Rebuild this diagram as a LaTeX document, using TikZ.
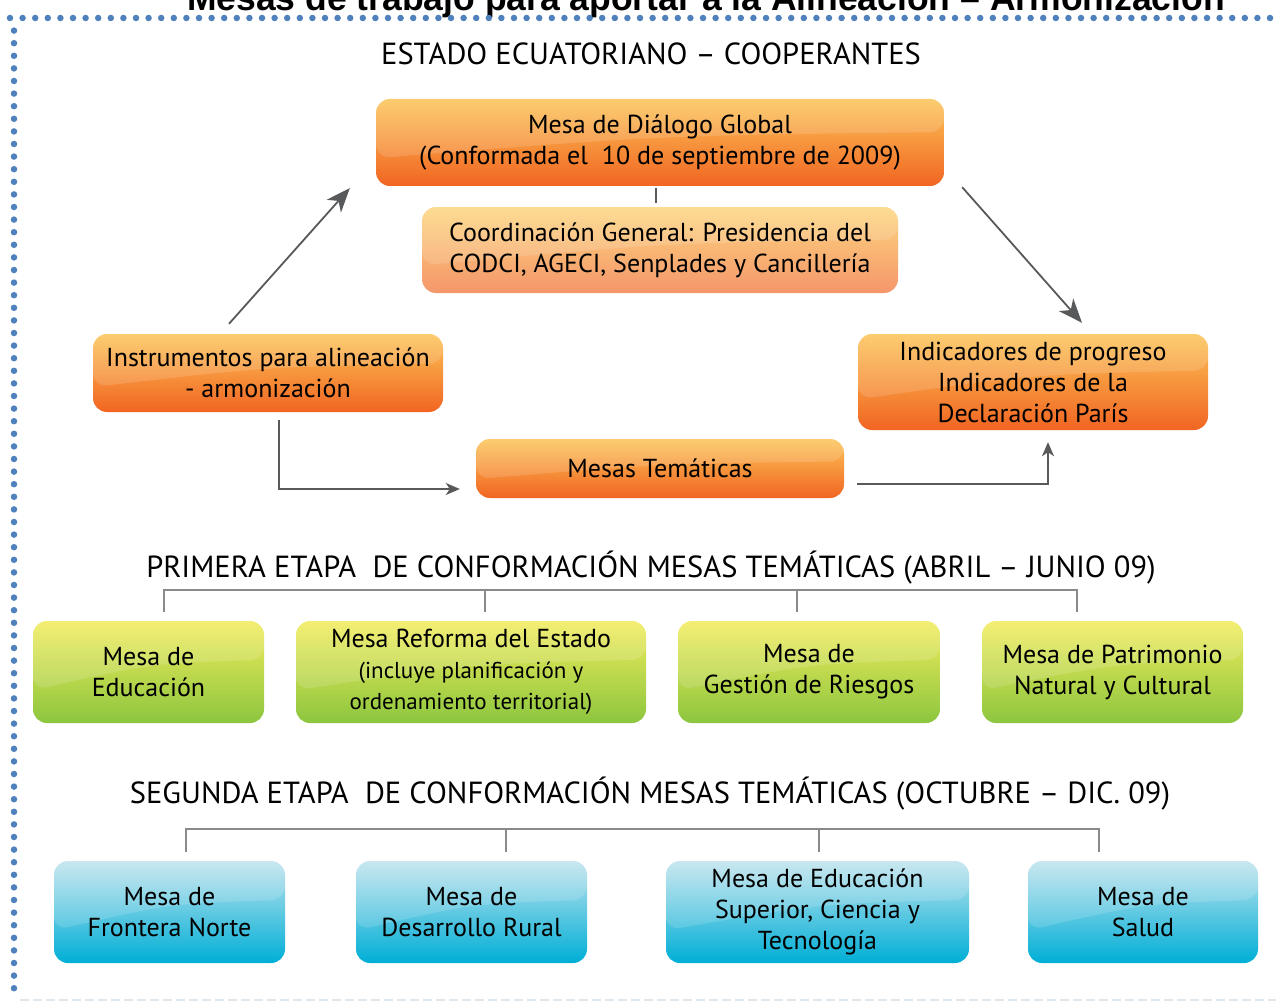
\documentclass[tikz,border=0pt]{standalone}
\usepackage{fontspec}
\setmainfont{PT Sans}
\newfontfamily\titlefont{Liberation Sans}
\usetikzlibrary{arrows.meta,calc}

\definecolor{dotblue}{HTML}{4F81BD}
\definecolor{linegray}{HTML}{58595B}
\definecolor{brgray}{HTML}{8A8A8A}

\tikzset{
	gloss/.style={path picture={
		\fill[white,opacity=0.14] (path picture bounding box.north west) -- (path picture bounding box.north east)
		-- ($(path picture bounding box.north east)!0.38!(path picture bounding box.south east)$)
		.. controls ($(path picture bounding box.north)!0.42!(path picture bounding box.south)$) .. ($(path picture bounding box.north west)!0.68!(path picture bounding box.south west)$) -- cycle;}},
	mesabox/.style={rounded corners=14pt,align=center,text=black,inner sep=0pt,
		font=\fontsize{26}{31}\selectfont,shading=axis,gloss},
	orangebox/.style={mesabox,top color={rgb,255:red,252;green,196;blue,88},middle color={rgb,255:red,247;green,148;blue,29},bottom color={rgb,255:red,241;green,101;blue,34}},
	peachbox/.style={mesabox,top color={rgb,255:red,253;green,214;blue,128},middle color={rgb,255:red,248;green,176;blue,104},bottom color={rgb,255:red,244;green,150;blue,106}},
	greenbox/.style={mesabox,top color={rgb,255:red,242;green,236;blue,92},middle color={rgb,255:red,208;green,222;blue,44},bottom color={rgb,255:red,140;green,198;blue,63},minimum height=102pt},
	bluebox/.style={mesabox,top color={rgb,255:red,192;green,228;blue,238},middle color={rgb,255:red,72;green,184;blue,222},bottom color={rgb,255:red,0;green,174;blue,214},minimum height=102pt},
	bigarrow/.style={draw=linegray,line width=1.8pt,-{Stealth[length=24pt,width=19pt,inset=7pt]}},
	smallarrow/.style={draw=linegray,line width=1.8pt,-{Stealth[length=14pt,width=12pt,inset=4pt]}},
	bracketline/.style={draw=brgray,line width=1.2pt},
	etapa/.style={font=\fontsize{30.5}{30.5}\selectfont,text=black,inner sep=0pt},
	dotborder/.style={draw=dotblue,line width=6.5pt,line cap=round,dash pattern=on 0pt off 12.6pt}
}

\begin{document}
\begin{tikzpicture}[x=1pt,y=-1pt]
	\useasboundingbox[fill=white] (0,0) rectangle (1276,1003);
	% titulo cortado y marco punteado
	\node[anchor=base,inner sep=0pt,font=\titlefont\bfseries\fontsize{35.5}{35.5}\selectfont] (titulo) at (706,11) {Mesas de trabajo para aportar a la Alineación – Armonización};
	\draw[dotborder] (10,18) -- (1276,18);
	\draw[dotborder] (14,30.6) -- (14,1000);
	\draw[draw={rgb,255:red,222;green,230;blue,238},line width=1.5pt,dash pattern=on 9pt off 4pt] (20,1000) -- (1276,1000);
	% parte superior
	\node[etapa] (estado) at (651,54) {ESTADO ECUATORIANO – COOPERANTES};
	\node[orangebox,minimum width=568pt,minimum height=87pt] (glob) at (660,142.5) {Mesa de Diálogo Global\\(Conformada el\ \ 10 de septiembre de 2009)};
	\node[peachbox,minimum width=476pt,minimum height=86pt] (coord) at (660,250) {Coordinación General: Presidencia del\\CODCI, AGECI, Senplades y Cancillería};
	\node[orangebox,minimum width=350pt,minimum height=78pt] (instr) at (268,373) {Instrumentos para alineación\\- armonización};
	\node[orangebox,minimum width=350pt,minimum height=96pt] (indic) at (1033,382) {Indicadores de progreso\\Indicadores de la\\Declaración París};
	\node[orangebox,minimum width=368pt,minimum height=59pt] (temat) at (660,468.5) {Mesas Temáticas};
	\draw[draw=linegray,line width=1.2pt] ([xshift=-4pt,yshift=-2pt]glob.south) -- ([xshift=-4pt,yshift=4pt]coord.north);
	\draw[bigarrow] ([xshift=-39pt,yshift=10pt]instr.north) -- ([xshift=-26pt,yshift=-2pt]glob.south west);
	\draw[bigarrow] ([xshift=18pt,yshift=-1pt]glob.south east) -- ([xshift=49pt,yshift=11pt]indic.north);
	\draw[smallarrow] ([xshift=11pt,yshift=-8pt]instr.south) |- ([xshift=-16pt,yshift=-20.5pt]temat.west);
	\draw[smallarrow] ([xshift=13pt,yshift=-15.5pt]temat.east) -| ([xshift=15pt,yshift=-12pt]indic.south);
	% primera etapa
	\node[etapa] (etapa1) at (651,568) {PRIMERA ETAPA\ \ DE CONFORMACIÓN MESAS TEMÁTICAS (ABRIL – JUNIO 09)};
	\draw[bracketline] (164,612) -- (164,590) -- (1077,590) -- (1077,612);
	\foreach \x in {485,797}
		\draw[bracketline] (\x,590) -- (\x,612);
	\node[greenbox,minimum width=231pt] (edu) at (148.5,672) {Mesa de\\Educación};
	\node[greenbox,minimum width=350pt] (ref) at (471,672) {Mesa Reforma del Estado\\{\fontsize{23}{30}\selectfont (incluye planificación y}\\{\fontsize{23}{30}\selectfont ordenamiento territorial)}};
	\node[greenbox,minimum width=262pt] (ges) at (809,672) {Mesa de\\Gestión de Riesgos};
	\node[greenbox,minimum width=261pt] (pat) at (1112.5,672) {Mesa de Patrimonio\\Natural y Cultural};
	% segunda etapa
	\node[etapa] (etapa2) at (650,794) {SEGUNDA ETAPA\ \ DE CONFORMACIÓN MESAS TEMÁTICAS (OCTUBRE – DIC. 09)};
	\draw[bracketline] (186,852) -- (186,829) -- (1099,829) -- (1099,852);
	\foreach \x in {506,819}
		\draw[bracketline] (\x,829) -- (\x,852);
	\node[bluebox,minimum width=231pt] (fro) at (169.5,912) {Mesa de\\Frontera Norte};
	\node[bluebox,minimum width=231pt] (des) at (471.5,912) {Mesa de\\Desarrollo Rural};
	\node[bluebox,minimum width=303pt] (sup) at (817.5,912) {Mesa de Educación\\Superior, Ciencia y\\Tecnología};
	\node[bluebox,minimum width=230pt] (sal) at (1143,912) {Mesa de\\Salud};
\end{tikzpicture}
\end{document}
